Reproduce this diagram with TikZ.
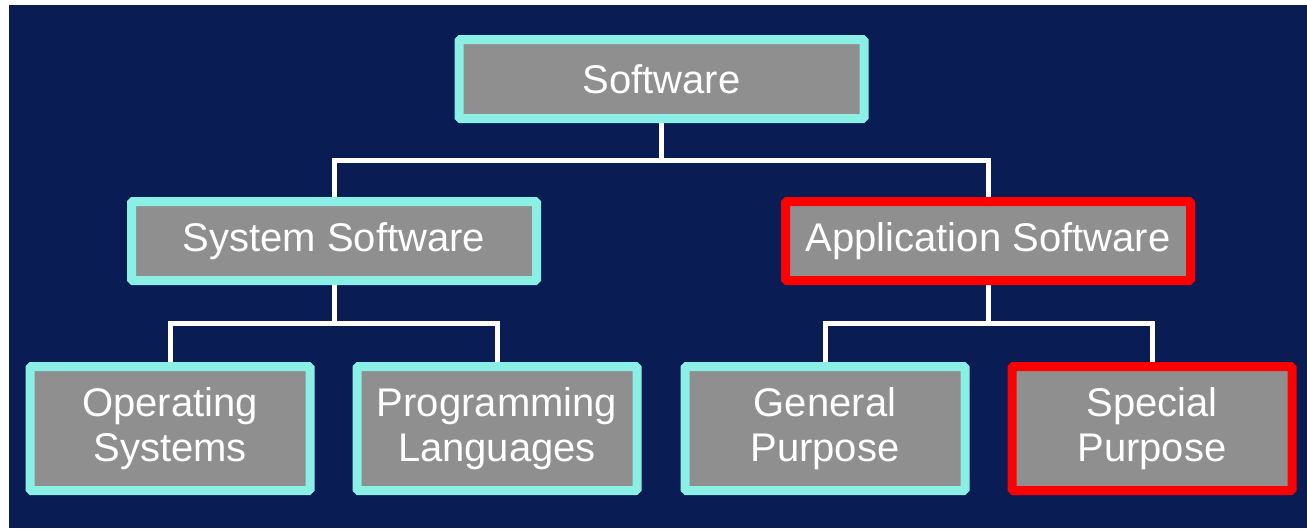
\documentclass[tikz,border=0pt]{standalone}
\usepackage{fontspec}
\setmainfont{Liberation Sans}
\usetikzlibrary{backgrounds}
\definecolor{navy}{RGB}{10,28,84}
\definecolor{boxgray}{RGB}{143,143,143}
\definecolor{aqua}{RGB}{138,240,230}
\definecolor{hotred}{RGB}{255,0,0}
\begin{document}
\begin{tikzpicture}[x=1pt,y=-1pt,
  box/.style={draw=aqua, line width=9pt, fill=boxgray, rounded corners=1.5pt,
    inner sep=0pt, align=center, text=white,
    font=\fontsize{40}{45}\selectfont},
  hot/.style={draw=hotred},
  wide/.style={minimum width=405pt, minimum height=79pt},
  leaf/.style={minimum width=280pt, minimum height=124pt},
  conn/.style={draw=white, line width=5pt}]
\useasboundingbox (0,0) rectangle (1307,528);

% top level
\node[box, wide] (sw) at (661.5,79) {Software};
% second level
\node[box, wide] (sys) at (334,241) {System Software};
\node[box, wide, hot] (app) at (988,241) {Application Software};
% third level
\node[box, leaf] (os) at (170,428.5) {Operating\\Systems};
\node[box, leaf] (pl) at (497,428.5) {Programming\\Languages};
\node[box, leaf] (gp) at (825,428.5) {General\\Purpose};
\node[box, leaf, hot] (sp) at (1152,428.5) {Special\\Purpose};

% junction points of the tree
\coordinate (j0) at (661.5,160);
\coordinate (j1) at (334,323);
\coordinate (j2) at (988,323);

\begin{pgfonlayer}{background}
  \fill[navy] (9,5) rectangle (1307,528);
  \draw[conn] (sw.south) -- (j0);
  \draw[conn] (sys.north) |- (j0) -| (app.north);
  \draw[conn] (sys.south) -- (j1);
  \draw[conn] (os.north) |- (j1) -| (pl.north);
  \draw[conn] (app.south) -- (j2);
  \draw[conn] (gp.north) |- (j2) -| (sp.north);
\end{pgfonlayer}
\end{tikzpicture}
\end{document}
